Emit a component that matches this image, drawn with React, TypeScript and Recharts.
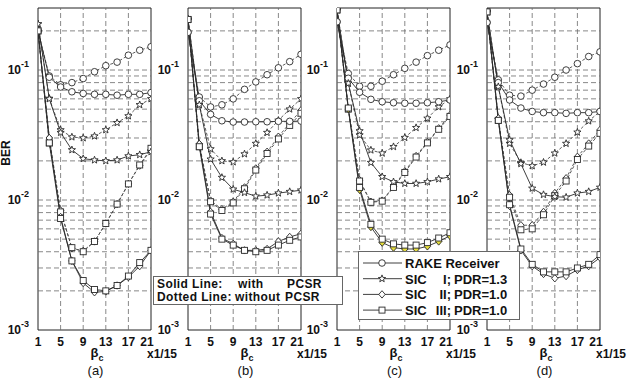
import React from 'react';
import { LineChart, Line, XAxis, YAxis, ReferenceLine, ReferenceArea } from 'recharts';

// BER vs. beta_c (x1/15), four receiver configurations (a)-(d).
// "S" = solid (with PCSR), "D" = dotted (without PCSR).

const betaC = [1, 3, 5, 7, 9, 11, 13, 15, 17, 19, 21];

const rakeSA = [0.2, 0.088, 0.074, 0.068, 0.066, 0.065, 0.065, 0.064, 0.065, 0.065, 0.067];
const rakeDA = [0.2, 0.09, 0.077, 0.08, 0.086, 0.097, 0.108, 0.115, 0.13, 0.142, 0.151];
const sic1SA = [0.226, 0.06, 0.033, 0.0243, 0.0208, 0.0203, 0.02, 0.0203, 0.0218, 0.0223, 0.0235];
const sic1DA = [0.226, 0.0605, 0.0346, 0.0305, 0.03, 0.031, 0.0346, 0.0393, 0.0443, 0.054, 0.06];
const sic2SA = [0.2, 0.03, 0.0074, 0.0034, 0.0023, 0.00195, 0.00198, 0.0022, 0.00255, 0.0031, 0.0041];
const sic3SA = [0.2, 0.0275, 0.0072, 0.0034, 0.0024, 0.00205, 0.002, 0.0022, 0.0026, 0.0033, 0.0041];
const sic2DA = [0.2, 0.03, 0.0083, 0.00425, 0.00406, 0.0048, 0.0066, 0.0093, 0.0133, 0.0184, 0.0245];
const sic3DA = [0.2, 0.0275, 0.0081, 0.0043, 0.004, 0.0048, 0.0066, 0.0093, 0.0133, 0.0186, 0.025];

const rakeSB = [0.195, 0.058, 0.0456, 0.0407, 0.0398, 0.0398, 0.04, 0.04, 0.0403, 0.0403, 0.0405];
const rakeDB = [0.195, 0.062, 0.052, 0.054, 0.06, 0.071, 0.081, 0.092, 0.104, 0.116, 0.132];
const sic1SB = [0.245, 0.054, 0.0206, 0.0149, 0.0121, 0.0114, 0.0107, 0.0109, 0.0113, 0.0116, 0.0119];
const sic1DB = [0.245, 0.054, 0.0247, 0.02, 0.0196, 0.0226, 0.0272, 0.033, 0.041, 0.05, 0.06];
const sic2SB = [0.245, 0.027, 0.0081, 0.0051, 0.0046, 0.0041, 0.0041, 0.0042, 0.0048, 0.0052, 0.0055];
const sic3SB = [0.245, 0.0257, 0.0078, 0.005, 0.0045, 0.0041, 0.004, 0.0041, 0.0045, 0.0049, 0.0052];
const sic2DB = [0.245, 0.027, 0.0099, 0.0085, 0.0097, 0.0125, 0.0175, 0.0235, 0.0307, 0.039, 0.049];
const sic3DB = [0.245, 0.0257, 0.0097, 0.0083, 0.0095, 0.0122, 0.017, 0.0228, 0.0295, 0.0375, 0.0465];

const rakeSC = [0.235, 0.0864, 0.0674, 0.0595, 0.057, 0.056, 0.0555, 0.0555, 0.056, 0.057, 0.0588];
const rakeDC = [0.235, 0.094, 0.075, 0.075, 0.082, 0.092, 0.103, 0.115, 0.129, 0.142, 0.156];
const sic1SC = [0.29, 0.079, 0.034, 0.0194, 0.0151, 0.0138, 0.0134, 0.0134, 0.0138, 0.0145, 0.0151];
const sic1DC = [0.29, 0.079, 0.0316, 0.0242, 0.0229, 0.0257, 0.0302, 0.036, 0.0425, 0.052, 0.0598];
const sic2SC = [0.29, 0.05, 0.012, 0.0062, 0.0047, 0.0043, 0.0042, 0.0042, 0.0044, 0.0048, 0.0053];
const sic3SC = [0.29, 0.051, 0.0125, 0.0065, 0.005, 0.0046, 0.0045, 0.0045, 0.0047, 0.0051, 0.0056];
const sic2DC = [0.29, 0.051, 0.0142, 0.0097, 0.0099, 0.0127, 0.0166, 0.0218, 0.028, 0.0356, 0.045];
const sic3DC = [0.29, 0.05, 0.014, 0.0096, 0.0098, 0.0125, 0.0163, 0.0214, 0.0275, 0.035, 0.044];

const rakeSD = [0.232, 0.08, 0.0588, 0.051, 0.048, 0.047, 0.047, 0.0464, 0.047, 0.047, 0.048];
const rakeDD = [0.232, 0.084, 0.064, 0.063, 0.07, 0.078, 0.088, 0.1, 0.112, 0.127, 0.138];
const sic1SD = [0.28, 0.0744, 0.029, 0.019, 0.0123, 0.011, 0.0106, 0.0105, 0.0113, 0.0116, 0.0125];
const sic1DD = [0.28, 0.0744, 0.0272, 0.0194, 0.0183, 0.0195, 0.0229, 0.0272, 0.0332, 0.0405, 0.048];
const sic2SD = [0.28, 0.0425, 0.009, 0.0041, 0.0031, 0.0027, 0.0025, 0.0026, 0.0029, 0.0031, 0.0036];
const sic3SD = [0.28, 0.041, 0.0092, 0.0042, 0.0032, 0.0028, 0.0028, 0.0028, 0.003, 0.0032, 0.0038];
const sic2DD = [0.28, 0.0425, 0.0109, 0.0064, 0.0064, 0.0081, 0.0113, 0.0147, 0.0215, 0.0272, 0.0346];
const sic3DD = [0.28, 0.041, 0.0105, 0.0059, 0.006, 0.0077, 0.0108, 0.014, 0.0205, 0.026, 0.0326];

const xTicks = [1, 5, 9, 13, 17, 21];
const yTicks = [0.001, 0.01, 0.1];
const gridX = [5, 9, 13, 17];
const gridY = [
  0.002, 0.003, 0.004, 0.005, 0.006, 0.007, 0.008, 0.009,
  0.01, 0.02, 0.03, 0.04, 0.05, 0.06, 0.07, 0.08, 0.09,
  0.1, 0.2,
];

const legendNames = ['RAKE Receiver', 'SIC', 'SIC', 'SIC'];
const legendStages = ['', 'I;', 'II;', 'III;'];
const legendPdr = ['', 'PDR=1.3', 'PDR=1.0', 'PDR=1.0'];

const INK = '#2a2a2a';
const GRID = '#6a6a6a';
const FONT = '"Liberation Sans", Arial, Helvetica, sans-serif';
const PLOT_W = 113;
const AXIS_W = 38;
const TOP = 8;
const BOTTOM = 330;

type Shape = 'circle' | 'star' | 'diamond' | 'square';
const SHAPES: Shape[] = ['circle', 'star', 'diamond', 'square'];

function starPath(x: number, y: number, R: number, r: number) {
  let d = '';
  for (let i = 0; i < 10; i++) {
    const rad = i % 2 === 0 ? R : r;
    const a = -Math.PI / 2 + (i * Math.PI) / 5;
    d += `${i === 0 ? 'M' : 'L'}${(x + rad * Math.cos(a)).toFixed(2)},${(y + rad * Math.sin(a)).toFixed(2)}`;
  }
  return d + 'Z';
}

function Glyph({ shape, x, y, fill = '#fff' }: { shape: Shape; x: number; y: number; fill?: string }) {
  const st = { fill, stroke: INK, strokeWidth: 0.9 };
  if (shape === 'circle') return <circle cx={x} cy={y} r={3.3} {...st} />;
  if (shape === 'square') return <rect x={x - 3} y={y - 3} width={6} height={6} {...st} />;
  if (shape === 'diamond') return <path d={`M${x},${y - 3.7}L${x + 3.2},${y}L${x},${y + 3.7}L${x - 3.2},${y}Z`} {...st} />;
  return <path d={starPath(x, y, 3.8, 1.6)} {...st} />;
}

const dotFor = (shape: Shape, fill?: string) => (p: any) => {
  if (p.cx == null || p.cy == null) return <g key={`${shape}-${p.index}`} />;
  return <Glyph key={`${shape}-${p.index}`} shape={shape} x={p.cx} y={p.cy} fill={fill} />;
};

const PowTick = (p: any) => {
  const e = Math.round(Math.log10(p.payload.value));
  return (
    <text x={p.x - 9} y={p.y + 4} textAnchor="end" fontFamily={FONT} fontWeight="bold" fontSize={12} fill="#111">
      10<tspan dy={-7} fontSize={9}>{e}</tspan>
    </text>
  );
};

// the last label sits a little inside the frame, clear of "x1/15"
const NumTick = (p: any) => (
  <text
    x={p.payload.value === 21 ? p.x - 4 : p.x}
    y={p.y + 16}
    textAnchor="middle"
    fontFamily={FONT}
    fontWeight="bold"
    fontSize={12}
    fill="#111"
  >
    {p.payload.value}
  </text>
);

interface PanelDef {
  tag: string;
  plotLeft: number;
  solid: number[][];
  dotted: number[][];
  diamondFill?: string;
}

const panels: PanelDef[] = [
  { tag: '(a)', plotLeft: 38, solid: [rakeSA, sic1SA, sic2SA, sic3SA], dotted: [rakeDA, sic1DA, sic2DA, sic3DA] },
  { tag: '(b)', plotLeft: 188, solid: [rakeSB, sic1SB, sic2SB, sic3SB], dotted: [rakeDB, sic1DB, sic2DB, sic3DB] },
  { tag: '(c)', plotLeft: 337, solid: [rakeSC, sic1SC, sic2SC, sic3SC], dotted: [rakeDC, sic1DC, sic2DC, sic3DC], diamondFill: '#e4dc3a' },
  { tag: '(d)', plotLeft: 487, solid: [rakeSD, sic1SD, sic2SD, sic3SD], dotted: [rakeDD, sic1DD, sic2DD, sic3DD] },
];

function Panel({ def }: { def: PanelDef }) {
  const rows = betaC.map((b, i) => {
    const r: Record<string, number> = { b };
    SHAPES.forEach((s, k) => {
      r[`s${k}`] = def.solid[k][i];
      r[`d${k}`] = def.dotted[k][i];
    });
    return r;
  });
  return (
    <div style={{ position: 'absolute', left: def.plotLeft - AXIS_W, top: 0 }}>
      <LineChart width={AXIS_W + PLOT_W + 4} height={382} data={rows} margin={{ top: TOP, right: 4, bottom: 0, left: 0 }}>
        <XAxis
          dataKey="b"
          type="number"
          domain={[1, 21]}
          ticks={xTicks}
          interval={0}
          height={382 - BOTTOM}
          tickLine={false}
          tickSize={0}
          tickMargin={0}
          axisLine={false}
          tick={<NumTick />}
          allowDataOverflow
        />
        <YAxis
          type="number"
          scale="log"
          domain={[0.001, 0.3]}
          ticks={yTicks}
          interval={0}
          width={AXIS_W}
          tickLine={false}
          tickSize={0}
          tickMargin={0}
          axisLine={false}
          tick={<PowTick />}
          allowDataOverflow
        />
        {gridY.map((v) => (
          <ReferenceLine key={`gy${v}`} y={v} stroke={GRID} strokeWidth={0.8} strokeDasharray="5 3" />
        ))}
        {gridX.map((v) => (
          <ReferenceLine key={`gx${v}`} x={v} stroke={GRID} strokeWidth={0.8} strokeDasharray="5 3" />
        ))}
        {SHAPES.map((s, k) => (
          <Line
            key={`d${k}`}
            dataKey={`d${k}`}
            stroke="#4a4a4a"
            strokeWidth={0.9}
            strokeDasharray="3 2"
            dot={dotFor(s)}
            isAnimationActive={false}
          />
        ))}
        {SHAPES.map((s, k) => (
          <Line
            key={`s${k}`}
            dataKey={`s${k}`}
            stroke={INK}
            strokeWidth={0.9}
            dot={dotFor(s, s === 'diamond' ? def.diamondFill : undefined)}
            isAnimationActive={false}
          />
        ))}
        <ReferenceArea x1={1} x2={21} y1={0.001} y2={0.3} fill="none" stroke="#222" strokeWidth={1} />
      </LineChart>
    </div>
  );
}

function Annotations() {
  const txt = { fontFamily: FONT, fill: '#111' };
  return (
    <svg width={627} height={382} style={{ position: 'absolute', left: 0, top: 0 }}>
      <text x={10} y={153} transform="rotate(-90 10 153)" textAnchor="middle" fontWeight="bold" fontSize={12} {...txt}>
        BER
      </text>
      {panels.map((p) => {
        const mid = p.plotLeft + PLOT_W / 2;
        return (
          <g key={p.tag}>
            <text x={p.plotLeft + PLOT_W - 4} y={358} fontWeight="bold" fontSize={12} {...txt}>x1/15</text>
            <text x={mid - 4} y={357} fontWeight="bold" fontSize={13} {...txt}>
              β<tspan dy={4} fontSize={9}>c</tspan>
            </text>
            <text x={mid + 1} y={375} textAnchor="middle" fontSize={13} {...txt}>{p.tag}</text>
          </g>
        );
      })}

      {/* line-style legend */}
      <rect x={153.5} y={276.5} width={189} height={28} fill="#fff" stroke="#666" strokeWidth={1} />
      <g fontWeight="bold" fontSize={12} letterSpacing={0.4} {...txt}>
        <text x={157} y={288}>Solid Line:</text>
        <text x={238} y={288}>with</text>
        <text x={287} y={288}>PCSR</text>
        <text x={157} y={301}>Dotted Line:</text>
        <text x={235} y={301}>without</text>
        <text x={285} y={301}>PCSR</text>
      </g>

      {/* receiver legend */}
      <rect x={358.5} y={251.5} width={161} height={68} fill="#fff" stroke="#666" strokeWidth={1} />
      {SHAPES.map((s, i) => {
        const cy = 263 + i * 15.7;
        return (
          <g key={s}>
            <line x1={363} x2={402} y1={cy} y2={cy} stroke={INK} strokeWidth={0.9} />
            <Glyph shape={s} x={382} y={cy} />
            <g fontWeight="bold" fontSize={13} {...txt}>
              <text x={405} y={cy + 5}>{legendNames[i]}</text>
              {legendStages[i] && <text x={451} y={cy + 5} textAnchor="end">{legendStages[i]}</text>}
              {legendPdr[i] && <text x={454} y={cy + 5}>{legendPdr[i]}</text>}
            </g>
          </g>
        );
      })}
    </svg>
  );
}

export default function App() {
  return (
    <div style={{ position: 'absolute', left: 0, top: 0, width: 627, height: 382, background: '#fff', overflow: 'hidden' }}>
      {panels.map((p) => (
        <Panel key={p.tag} def={p} />
      ))}
      <Annotations />
    </div>
  );
}
